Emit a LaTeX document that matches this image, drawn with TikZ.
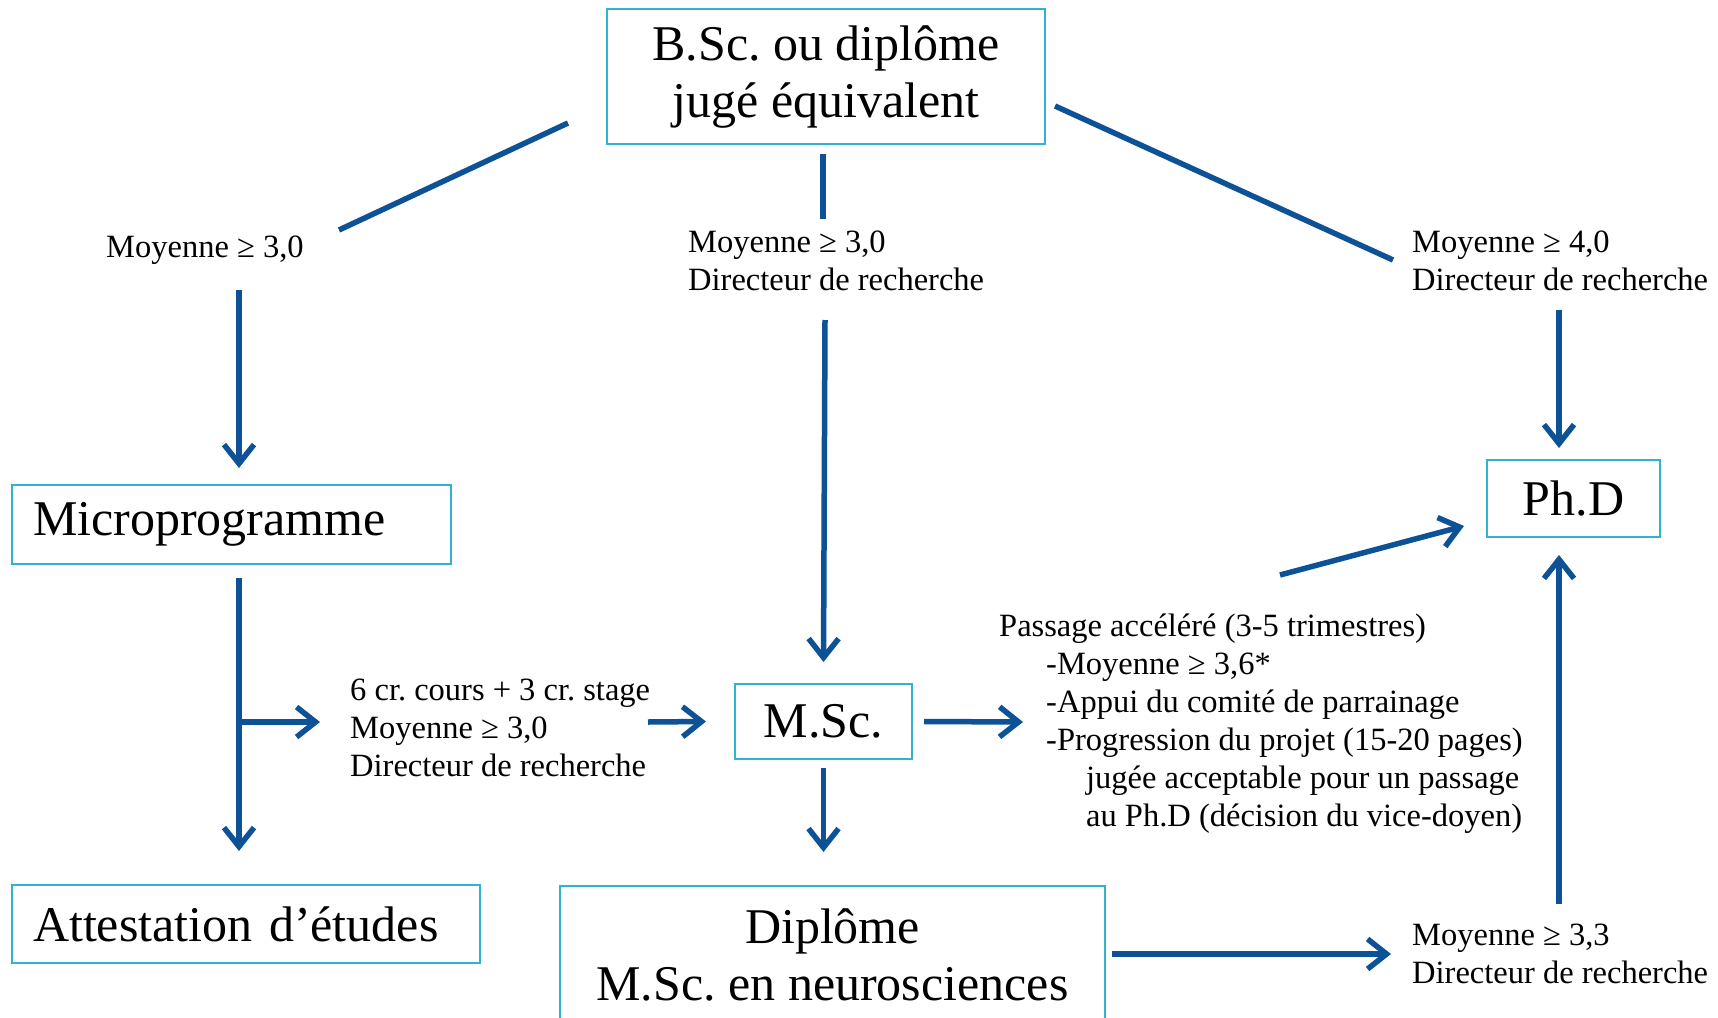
\documentclass[tikz,border=0pt]{standalone}
\usepackage{fontspec}
\setmainfont{Liberation Serif}
\frenchspacing
\usetikzlibrary{arrows.meta}
\definecolor{boxcyan}{RGB}{49,178,206}
\definecolor{flowblue}{RGB}{13,82,151}
\tikzset{%
  >={Straight Barb[length=19pt,width=30pt]},
  % Specifications for style of nodes:
      degree/.style = {rectangle, draw=boxcyan, line width=2pt,
                       font=\fontsize{50}{57}\selectfont, align=center},
  leftdegree/.style = {degree, anchor=west, inner xsep=21pt, align=left},
        cond/.style = {inner sep=0pt, anchor=west, align=left,
                       font=\fontsize{32.5}{38}\selectfont},
        flow/.style = {draw=flowblue, line width=5.5pt},
}
\begin{document}
\begin{tikzpicture}[x=1pt, y=-1pt]
  \clip (0,0) rectangle (1718,1017);
  \fill[white] (0,0) rectangle (1718,1017);
  % Specification of nodes (position, etc.)
  \node (bsc)     [degree, minimum width=438pt, minimum height=135pt]
        at (826,76.5) {B.Sc. ou diplôme\\jugé équivalent};
  \node (micro)   [leftdegree, text width=397pt, minimum height=79pt]
        at (11,524.5) {Microprogramme};
  \node (attest)  [leftdegree, text width=426pt, minimum height=78pt]
        at (11,924) {Attestation d’études};
  \node (msc)     [degree, minimum width=177pt, minimum height=75pt]
        at (823.5,721.5) {M.Sc.};
  \node (phd)     [degree, minimum width=173pt, minimum height=77pt]
        at (1573.5,498.5) {Ph.D};
  \node (diplome) [degree, anchor=north, minimum width=545pt, minimum height=138pt]
        at (832.5,885) {Diplôme\\M.Sc. en neurosciences};

  \node (condmicro) [cond] at (106,250) {Moyenne ≥ 3,0};
  \node (condmsc)   [cond] at (688,260.5) {Moyenne ≥ 3,0\\Directeur de recherche};
  \node (condphd)   [cond] at (1412,260.5) {Moyenne ≥ 4,0\\Directeur de recherche};
  \node (condstage) [cond] at (350,728)
        {6 cr. cours + 3 cr. stage\\Moyenne ≥ 3,0\\Directeur de recherche};
  \node (condfast)  [cond] at (999,724)
        {Passage accéléré (3-5 trimestres)\\
         \hspace*{47pt}-Moyenne ≥ 3,6*\\
         \hspace*{47pt}-Appui du comité de parrainage\\
         \hspace*{47pt}-Progression du projet (15-20 pages)\\
         \hspace*{87pt}jugée acceptable pour un passage\\
         \hspace*{87pt}au Ph.D (décision du vice-doyen)};
  \node (condlate)  [cond] at (1412,954) {Moyenne ≥ 3,3\\Directeur de recherche};

  % free ends of the connectors
  \coordinate (bscL)  at (568,123);
  \coordinate (bscLe) at (339,230);
  \coordinate (bscR)  at (1055,106);
  \coordinate (bscRe) at (1393,260);
  \coordinate (split) at (239,722);

  \draw[flow]     (bscL) -- (bscLe);
  \draw[flow]     ([yshift=-9pt]bsc.south -| 823,0) -- (823,219);
  \draw[flow]     (bscR) -- (bscRe);
  \draw[flow,->]  (239,290) -- ([yshift=16pt]micro.north -| 239,0);
  \draw[flow,->]  (825,320) -- ([yshift=21pt]msc.north);
  \draw[flow,->]  (1559,310) -- ([yshift=11pt]phd.north -| 1559,0);
  \draw[flow,->]  ([yshift=-13pt]micro.south -| 239,0) -- ([yshift=33pt]attest.north -| 239,0);
  \draw[flow,->]  (split) -- ([xshift=-30pt]condstage.west |- split);
  \draw[flow,->]  (648,722) -- ([xshift=-28pt]msc.west);
  \draw[flow,->]  ([xshift=11pt]msc.east) -- (1023,722);
  \draw[flow,->]  ([yshift=-8pt]msc.south) -- ([yshift=33pt]diplome.north -| msc.south);
  \draw[flow,->]  (1280,575) -- (1464,526);
  \draw[flow,->]  (1112,954) -- ([xshift=-21pt]condlate.west);
  \draw[flow,->]  (1559,904) -- ([yshift=-17pt]phd.south -| 1559,0);
\end{tikzpicture}
\end{document}
